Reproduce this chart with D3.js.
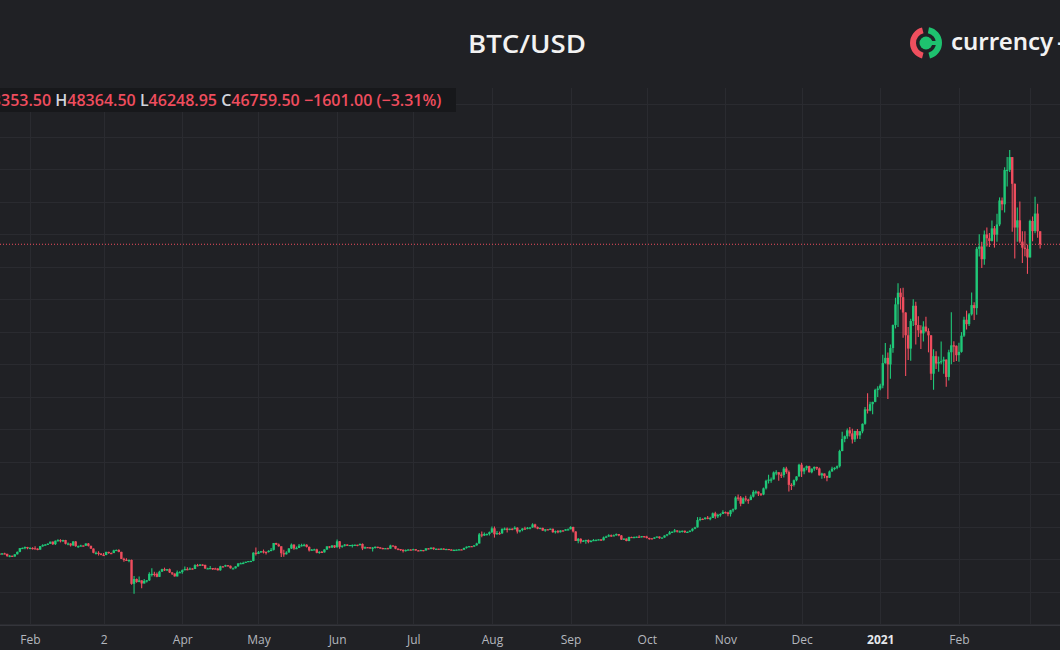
<!DOCTYPE html>
<html>
<head>
<meta charset="utf-8">
<script src="https://cdn.jsdelivr.net/npm/d3@7"></script>
<style>
  html, body { margin: 0; padding: 0; background: #202125; overflow: hidden; }
  svg { display: block; }
</style>
</head>
<body>
<svg id="chart" width="1060" height="650"></svg>
<script>
// BTC/USD daily candles, 18 Jan 2020 -> 5 Mar 2021 (one entry per day)
// crypto trades 24/7 so each day's open is the previous day's close
const startDay = "2020-01-18";
const firstOpen = 8910;

const closes = [
  // Jan 2020 (18-31)
  8900, 8700, 8630, 8720, 8660, 8380, 8430, 8330, 8600, 8900, 9360, 9390, 9500, 9350,
  // Feb 2020
  9390, 9340, 9290, 9180, 9610, 9730, 9800, 9900, 10160, 9850, 10270, 10350, 10240, 10360, 9900,
  9930, 9700, 10180, 9600, 9610, 9690, 9660, 9930, 9650, 9310, 8790, 8790, 8670, 8530,
  // Mar 2020
  8520, 8900, 8760, 8750, 9080, 9140, 8900, 8040, 7930, 7910, 7910, 4970, 5560, 5200, 5390, 5010,
  5330, 5400, 6190, 6200, 6190, 5830, 6460, 6770, 6700, 6770, 6370, 6240, 5880, 6390, 6410,
  // Apr 2020
  6640, 6790, 6740, 6860, 6790, 7270, 7180, 7340, 7300, 6860, 6880, 6910, 6860, 6840, 6640,
  7120, 7100, 7260, 7190, 6880, 6880, 7120, 7480, 7510, 7540, 7690, 7770, 7790, 8800, 8650,
  // May 2020
  8860, 8980, 8900, 8890, 9030, 9150, 9990, 9810, 9590, 8740, 8600, 8820, 9320, 9790, 9320, 9380,
  9670, 9730, 9780, 9520, 9080, 9180, 9210, 8790, 8910, 8840, 9200, 9580, 9430, 9700, 9460,
  // Jun 2020
  10200, 9520, 9670, 9800, 9660, 9750, 9760, 9780, 9770, 9880, 9320, 9480, 9470, 9390, 9430,
  9530, 9460, 9380, 9300, 9360, 9290, 9690, 9630, 9300, 9250, 9170, 9000, 9130, 9190, 9140,
  // Jul 2020
  9230, 9090, 9060, 9130, 9070, 9340, 9250, 9430, 9240, 9290, 9240, 9300, 9240, 9260, 9190, 9130,
  9150, 9170, 9210, 9160, 9390, 9540, 9610, 9550, 9710, 9930, 11050, 10910, 11100, 11110, 11320,
  // Aug 2020
  11800, 11070, 11220, 11190, 11740, 11770, 11600, 11750, 11680, 11880, 11410, 11580, 11780, 11770, 11870, 11910,
  12280, 11950, 11750, 11860, 11520, 11680, 11650, 11750, 11320, 11460, 11320, 11540, 11510, 11680, 11680,
  // Sep 2020
  11970, 11410, 10250, 10510, 10170, 10280, 10370, 10130, 10240, 10360, 10400, 10440, 10330, 10680, 10790,
  10950, 10940, 10940, 11090, 10920, 10420, 10540, 10240, 10740, 10690, 10730, 10770, 10700, 10840, 10780,
  // Oct 2020
  10620, 10570, 10550, 10670, 10790, 10600, 10670, 10920, 11060, 11300, 11380, 11540, 11430, 11430, 11500, 11320,
  11370, 11510, 11750, 11920, 12820, 12970, 12930, 13110, 13030, 13070, 13650, 13270, 13460, 13560, 13800,
  // Nov 2020
  13760, 13550, 14020, 14150, 15590, 15580, 14830, 15480, 15330, 15300, 15700, 16280, 16320, 16070, 15970,
  16720, 17650, 17800, 17820, 18680, 18700, 18410, 18370, 19160, 18720, 17150, 17140, 17720, 18180, 19630,
  // Dec 2020
  18800, 19200, 19450, 18700, 19150, 19360, 19170, 18320, 18550, 18250, 18030, 18800, 19140, 19250, 19440, 21310,
  22800, 23130, 23860, 23480, 22740, 23780, 23240, 23730, 24660, 26440, 26280, 27080, 27360, 28840, 29000,
  // Jan 2021
  29370, 32130, 32780, 31970, 33990, 36820, 39370, 40800, 40250, 38360, 35560, 33920, 37320, 39190, 36820, 36180,
  35790, 36630, 36070, 35550, 30830, 32990, 32080, 32280, 32370, 32570, 30430, 33470, 34320, 34270, 33110,
  // Feb 2021
  33520, 35510, 37470, 36930, 38140, 39270, 38900, 46200, 46480, 44920, 47970, 47500, 47170, 48720,
  47940, 49200, 52150, 51680, 55890, 55920, 57490, 54200, 48820, 49710, 47090, 46340, 46190, 45140,
  // Mar 2021 (1-5)
  49630, 48380, 50540, 48360.5, 46759.5
];

const highs = [
  8990, 9160, 8730, 8770, 8790, 8660, 8510, 8430, 8610, 8960, 9370, 9430, 9560, 9520,
  9470, 9470, 9590, 9340, 9640, 9830, 9870, 9950, 10160, 10180, 10300, 10450, 10460, 10400, 10380,
  10050, 9960, 10240, 10250, 9680, 9770, 9700, 9960, 9990, 9670, 9330, 8950, 8980, 8760,
  8750, 8920, 8920, 8830, 9160, 9200, 9210, 8910, 8170, 8130, 7970, 7960, 5930, 5640, 5880, 5400,
  5550, 5440, 6390, 6900, 6450, 6360, 6590, 6840, 6960, 6790, 6860, 6390, 6240, 6600, 6520,
  6740, 7090, 7000, 6990, 6890, 7370, 7420, 7400, 7370, 7310, 6940, 7170, 6920, 6960, 6930,
  7200, 7150, 7310, 7290, 7220, 6980, 7140, 7500, 7590, 7690, 7700, 7790, 7800, 8860, 9440,
  9000, 9010, 9190, 8950, 9110, 9380, 9990, 10030, 9930, 9600, 9160, 8970, 9390, 9930, 9830, 9560,
  9880, 9910, 9900, 9840, 9570, 9260, 9300, 9300, 8970, 9010, 9220, 9600, 9600, 9720, 9710,
  10410, 10230, 9690, 9880, 9840, 9760, 9800, 9800, 9790, 9940, 9940, 9550, 9490, 9480, 9490,
  9570, 9530, 9470, 9410, 9390, 9410, 9780, 9700, 9650, 9320, 9260, 9190, 9190, 9230, 9210,
  9290, 9250, 9120, 9170, 9140, 9350, 9360, 9440, 9440, 9310, 9300, 9340, 9340, 9280, 9270, 9210,
  9180, 9200, 9240, 9220, 9410, 9560, 9640, 9640, 9730, 10030, 11240, 11400, 11290, 11170, 11420,
  12030, 12030, 11460, 11400, 11780, 11900, 11910, 11780, 11800, 12050, 11930, 11630, 11800, 11990, 11960, 11930,
  12420, 12360, 12020, 11880, 11880, 11690, 11700, 11780, 11760, 11530, 11580, 11560, 11570, 11690, 11780,
  12050, 12000, 11450, 10610, 10570, 10350, 10390, 10430, 10350, 10480, 10400, 10450, 10450, 10790, 10900,
  11080, 11030, 11050, 11170, 11090, 10990, 10560, 10560, 10770, 10770, 10790, 10800, 10950, 10860, 10840,
  10900, 10650, 10600, 10690, 10800, 10800, 10680, 10940, 11100, 11470, 11420, 11720, 11560, 11530, 11540, 11540,
  11400, 11520, 11800, 11990, 13180, 13190, 13000, 13160, 13330, 13220, 13760, 13840, 13600, 13650, 14030,
  13870, 13830, 14070, 14240, 15740, 15950, 15770, 15640, 15810, 15450, 15940, 16480, 16470, 16320, 16120,
  16820, 17790, 18390, 18070, 18780, 18940, 18710, 18710, 19350, 19390, 18910, 17360, 17800, 18220, 19750,
  19860, 19300, 19530, 19490, 19160, 19410, 19390, 19280, 18640, 18560, 18280, 18920, 19380, 19330, 19520, 21470,
  23700, 23240, 24090, 24280, 24070, 23800, 24020, 23780, 24710, 26720, 28420, 27390, 27370, 28990, 29300,
  29600, 33160, 34610, 33440, 34440, 36880, 40180, 41950, 41350, 41420, 38400, 36570, 37600, 40000, 39700, 37900,
  36800, 37300, 37850, 36420, 35600, 33830, 33580, 32940, 34800, 32920, 32590, 33780, 38400, 34830, 34290,
  34640, 35950, 37850, 38590, 38310, 40820, 39620, 46420, 48000, 47080, 48460, 48840, 48140, 49700,
  49010, 50530, 52530, 52530, 56250, 57490, 58350, 57490, 54230, 51290, 52040, 48370, 48370, 46720,
  49790, 50180, 52620, 51740, 48364.5
];

const lows = [
  8810, 8540, 8520, 8560, 8610, 8290, 8240, 8260, 8300, 8580, 8870, 9270, 9240, 9220,
  9310, 9190, 9250, 9110, 9150, 9540, 9710, 9760, 9870, 9740, 9740, 10170, 10070, 10130, 9820,
  9720, 9550, 9620, 9540, 9400, 9600, 9560, 9640, 9550, 9250, 8730, 8580, 8450, 8500,
  8420, 8490, 8660, 8670, 8750, 9010, 8850, 8010, 7690, 7770, 7610, 4860, 3750, 5090, 5150, 4440,
  5010, 5120, 5330, 5880, 5870, 5790, 5820, 6450, 6550, 6540, 6310, 6050, 5870, 5860, 6310,
  6200, 6630, 6640, 6700, 6720, 6790, 7120, 7160, 7160, 6780, 6790, 6800, 6660, 6800, 6620,
  6590, 7000, 7070, 7100, 6850, 6790, 6850, 7080, 7410, 7470, 7520, 7660, 7680, 7750, 8450,
  8630, 8780, 8710, 8580, 8830, 8970, 9080, 9760, 9530, 8270, 8300, 8580, 8820, 9260, 9170, 9240,
  9380, 9570, 9560, 9430, 8950, 9060, 9120, 8720, 8660, 8810, 8830, 9140, 9350, 9410, 9380,
  9430, 9290, 9400, 9570, 9610, 9630, 9440, 9650, 9580, 9700, 9120, 9280, 9390, 9300, 8940,
  9330, 9360, 9290, 9210, 9260, 9260, 9290, 9590, 9230, 9100, 9050, 8840, 8960, 9090, 9090,
  9130, 9040, 9000, 9060, 8990, 9070, 9220, 9240, 9170, 9140, 9200, 9160, 9210, 9180, 9170, 9100,
  9090, 9140, 9120, 9150, 9150, 9300, 9480, 9490, 9540, 9670, 9930, 10700, 10860, 10910, 10930,
  11240, 10660, 11000, 11010, 11110, 11560, 11300, 11550, 11560, 11680, 11150, 11300, 11440, 11660, 11680, 11680,
  11870, 11800, 11680, 11690, 11500, 11370, 11590, 11650, 11250, 11160, 11200, 11290, 11450, 11510, 11570,
  11680, 11300, 10230, 9950, 9940, 10110, 9910, 9970, 10120, 10240, 10210, 10330, 10240, 10290, 10630,
  10760, 10740, 10860, 10900, 10820, 10370, 10370, 10200, 10200, 10610, 10640, 10640, 10690, 10680, 10670,
  10560, 10400, 10510, 10500, 10650, 10530, 10580, 10640, 10830, 11050, 11290, 11280, 11300, 11300, 11290, 11220,
  11240, 11330, 11410, 11690, 11890, 12680, 12880, 12880, 12920, 12800, 13060, 12970, 13060, 13210, 13550,
  13620, 13290, 13250, 13790, 14090, 15180, 14520, 14810, 15110, 14840, 15260, 15600, 15990, 15790, 15780,
  15880, 16570, 17310, 17400, 17800, 18320, 17660, 18000, 18070, 18520, 16340, 16520, 16950, 17580, 18180,
  18120, 18460, 18950, 18660, 18590, 18900, 18970, 18290, 17910, 17970, 17600, 18000, 18760, 18940, 19080, 19290,
  21290, 22400, 22820, 23090, 22230, 22420, 22830, 22800, 23500, 24550, 25920, 26220, 25850, 27320, 27970,
  28800, 29040, 32050, 27730, 30220, 33410, 36400, 36570, 38720, 35250, 30550, 32530, 32410, 36700, 34410, 35350,
  33870, 34800, 35920, 33460, 30070, 28850, 31420, 31080, 32000, 30840, 29240, 30000, 31990, 32270, 32400,
  32300, 33420, 35360, 36270, 36690, 38000, 37450, 38100, 45260, 43850, 44230, 46480, 46430, 47110,
  46350, 47080, 48990, 50940, 50680, 53880, 55670, 48300, 45000, 47060, 46900, 44450, 45290, 43120,
  45120, 47120, 48130, 47560, 46248.95
];

// status line of the last bar (5 Mar 2021)
const lastOpen = "48353.50";
const lastHigh = "48364.50";
const lastLow = "46248.95";
const lastClose = "46759.50";
const lastChange = "\u22121601.00";
const lastChangePct = "(\u22123.31%)";

// time axis
const tickDates = ["2020-02-01", "2020-03-01", "2020-04-01", "2020-05-01", "2020-06-01", "2020-07-01",
  "2020-08-01", "2020-09-01", "2020-10-01", "2020-11-01", "2020-12-01", "2021-01-01", "2021-02-01"];
const tickLabels = ["Feb", "2", "Apr", "May", "Jun", "Jul", "Aug", "Sep", "Oct", "Nov", "Dec", "2021", "Feb"];

const upColor = "#1fc878";
const downColor = "#ef4d5e";

const svg = d3.select("#chart");
const width = +svg.attr("width");
const height = +svg.attr("height");
const paneTop = 88, paneBottom = 625;

const parse = d3.utcParse("%Y-%m-%d");
const start = parse(startDay);

const bars = closes.map((c, i) => ({
  date: d3.utcDay.offset(start, i),
  open: i === 0 ? firstOpen : closes[i - 1],
  high: highs[i],
  low: lows[i],
  close: c
}));

const x = d3.scaleUtc()
  .domain([parse("2020-02-01"), parse("2021-03-01")])
  .range([30, 1030]);
const y = d3.scaleLinear()
  .domain([4000, 60000])
  .range([591.7, 136.7]);

svg.append("rect").attr("width", width).attr("height", height).attr("fill", "#202125");

svg.append("defs").append("clipPath").attr("id", "pane")
  .append("rect").attr("x", 0).attr("y", paneTop).attr("width", width).attr("height", paneBottom - paneTop);

// grid
const grid = svg.append("g").attr("clip-path", "url(#pane)");
grid.selectAll("line.h")
  .data(d3.range(0, 72000, 4000))
  .join("line")
    .attr("class", "h")
    .attr("x1", 0).attr("x2", width)
    .attr("y1", d => Math.round(y(d)) + 0.5)
    .attr("y2", d => Math.round(y(d)) + 0.5)
    .attr("stroke", "#2a2b30");
grid.selectAll("line.v")
  .data(d3.utcMonth.range(parse("2020-01-01"), parse("2021-04-01")))
  .join("line")
    .attr("class", "v")
    .attr("x1", d => Math.round(x(d)) + 0.5)
    .attr("x2", d => Math.round(x(d)) + 0.5)
    .attr("y1", paneTop).attr("y2", paneBottom)
    .attr("stroke", "#2a2b30");

// candles
const candles = svg.append("g").attr("clip-path", "url(#pane)");
const bar = candles.selectAll("g")
  .data(bars)
  .join("g")
    .attr("fill", d => d.close >= d.open ? upColor : downColor)
    .attr("stroke", d => d.close >= d.open ? upColor : downColor);
bar.append("line")
  .attr("x1", d => x(d.date))
  .attr("x2", d => x(d.date))
  .attr("y1", d => y(Math.max(d.high, d.open, d.close)))
  .attr("y2", d => y(Math.min(d.low, d.open, d.close)))
  .attr("stroke-width", 1.1);
bar.append("rect")
  .attr("stroke", "none")
  .attr("x", d => x(d.date) - 1.2)
  .attr("width", 2.4)
  .attr("y", d => y(Math.max(d.open, d.close)))
  .attr("height", d => Math.max(1.2, Math.abs(y(d.open) - y(d.close))));

// last price line
const last = bars[bars.length - 1];
svg.append("line")
  .attr("x1", 0).attr("x2", width)
  .attr("y1", y(last.close)).attr("y2", y(last.close))
  .attr("stroke", downColor)
  .attr("stroke-width", 1)
  .attr("stroke-dasharray", "1,2");

// time axis
svg.append("line")
  .attr("x1", 0).attr("x2", width)
  .attr("y1", paneBottom + 0.5).attr("y2", paneBottom + 0.5)
  .attr("stroke", "#34353b");

const axis = svg.append("g")
  .attr("transform", `translate(0,${paneBottom})`)
  .call(d3.axisBottom(x)
    .tickValues(tickDates.map(parse))
    .tickFormat((d, i) => tickLabels[i])
    .tickSize(0)
    .tickPadding(10));
axis.select(".domain").remove();
axis.selectAll("text")
  .attr("fill", "#b4b7be")
  .attr("font-family", "'Open Sans', sans-serif")
  .attr("font-size", 12)
  .filter(function () { return d3.select(this).text() === "2021"; })
  .attr("fill", "#e6e8ec")
  .attr("font-weight", 700);

// status line box
svg.append("rect")
  .attr("x", 0).attr("y", paneTop)
  .attr("width", 456).attr("height", 24)
  .attr("fill", "#17181b");

const status = svg.append("text")
  .attr("y", 106)
  .attr("font-family", "'Open Sans', sans-serif")
  .attr("font-size", 16)
  .attr("font-weight", 600);
const parts = [
  ["O", "#d1d4dc"], [lastOpen, downColor],
  [" H", "#d1d4dc"], [lastHigh, downColor],
  [" L", "#d1d4dc"], [lastLow, downColor],
  [" C", "#d1d4dc"], [lastClose, downColor],
  [" " + lastChange + " " + lastChangePct, downColor]
];
parts.forEach(p => status.append("tspan").attr("fill", p[1]).text(p[0]));
// the picture is cropped: "O48" lies left of the frame
const cut = status.node().getSubStringLength(0, 3);
status.attr("x", 1 - cut);

// title
svg.append("text")
  .attr("x", 527).attr("y", 53)
  .attr("text-anchor", "middle")
  .attr("fill", "#f2f2f2")
  .attr("font-family", "'Open Sans', sans-serif")
  .attr("font-size", 25)
  .attr("font-weight", 600)
  .attr("textLength", 118)
  .attr("lengthAdjust", "spacingAndGlyphs")
  .text("BTC/USD");

// currency.com logo
const logo = svg.append("g").attr("transform", "translate(926,43)");
const ring = d3.arc().innerRadius(10).outerRadius(16);
logo.append("path")
  .attr("d", ring({ startAngle: Math.PI * 1.08, endAngle: Math.PI * 1.92 }))
  .attr("fill", "#ef4f5e");
logo.append("path")
  .attr("d", ring({ startAngle: Math.PI * 0.06, endAngle: Math.PI * 0.92 }))
  .attr("fill", "#1ec26f");
logo.append("circle").attr("r", 6.5).attr("fill", "#1ec26f");
logo.append("rect").attr("x", 2).attr("y", -2).attr("width", 10).attr("height", 4).attr("fill", "#1ec26f");

const brand = svg.append("text")
  .attr("x", 951).attr("y", 50)
  .attr("fill", "#f2f2f2")
  .attr("font-family", "'Noto Sans', sans-serif")
  .attr("font-size", 24)
  .attr("font-weight", 600);
brand.append("tspan").text("currency");
brand.append("tspan").attr("dx", 4).text("-");
brand.append("tspan").attr("dx", 6).text("com");
</script>
</body>
</html>
